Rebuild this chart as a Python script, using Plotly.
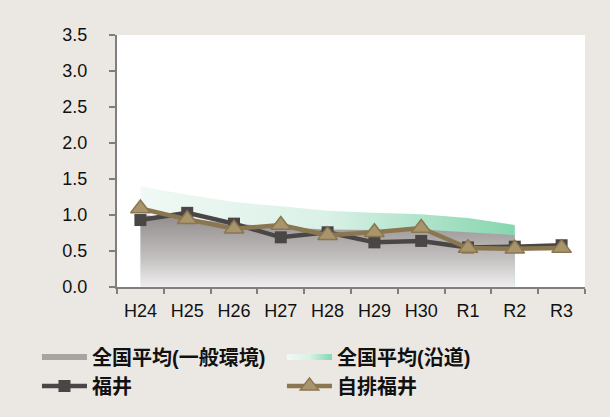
import plotly.graph_objects as go

years = ["H24", "H25", "H26", "H27", "H28", "H29", "H30", "R1", "R2", "R3"]
area_years = years[:9]
national_general = [1.00, 0.95, 0.88, 0.83, 0.80, 0.79, 0.80, 0.76, 0.72]
national_roadside = [1.40, 1.28, 1.18, 1.12, 1.06, 1.03, 1.01, 0.96, 0.86]
fukui = [0.93, 1.03, 0.88, 0.69, 0.76, 0.62, 0.64, 0.55, 0.56, 0.58]
jihai_fukui = [1.09, 0.94, 0.81, 0.86, 0.72, 0.76, 0.82, 0.54, 0.53, 0.54]

fig = go.Figure()

fig.add_trace(go.Scatter(
    x=area_years, y=national_roadside, name="全国平均(沿道)",
    mode="none", fill="tozeroy", legendrank=2,
    fillgradient=dict(type="horizontal",
                      colorscale=[[0, "#f1f9f5"], [0.5, "#d9f1e6"], [1, "#86d6b0"]]),
))
fig.add_trace(go.Scatter(
    x=area_years, y=national_general, name="全国平均(一般環境)",
    mode="none", fill="tozeroy", showlegend=False,
    fillgradient=dict(type="vertical",
                      colorscale=[[0, "#efeeee"], [0.4, "#c4c0c0"], [1, "#928d8d"]]),
))
# legend swatch (solid) for the general-environment average
fig.add_trace(go.Scatter(
    x=[None], y=[None], name="全国平均(一般環境)", mode="none", fill="tozeroy",
    fillcolor="#a8a4a2", legendrank=1, hoverinfo="skip",
))
fig.add_trace(go.Scatter(
    x=years, y=fukui, name="福井", mode="lines+markers", legendrank=3,
    line=dict(color="#4a4646", width=4.5),
    marker=dict(symbol="square", size=12, color="#4a4646"),
))
fig.add_trace(go.Scatter(
    x=years, y=jihai_fukui, name="自排福井", mode="lines+markers", legendrank=4,
    line=dict(color="#8a7751", width=4.5),
    marker=dict(symbol="triangle-up", size=17, color="#a8956c",
                line=dict(color="#8a7650", width=1.5)),
))

fig.update_layout(
    width=610, height=417,
    margin=dict(l=117, r=25, t=35, b=130),
    paper_bgcolor="#ebe8e3",
    plot_bgcolor="#ffffff",
    font=dict(family="Liberation Sans, Arial, sans-serif", size=18, color="#111111"),
    showlegend=True,
    legend=dict(
        orientation="h", x=-0.171, y=-0.2, xanchor="left", yanchor="top",
        entrywidth=185, entrywidthmode="pixels", itemwidth=45,
        font=dict(family="Liberation Sans, Noto Sans CJK JP, sans-serif",
                  size=20, color="#111111", weight="bold"),
        bgcolor="rgba(0,0,0,0)", tracegroupgap=0, traceorder="normal",
    ),
    xaxis=dict(
        type="category", range=[-0.5, 9.5], showgrid=False, zeroline=False,
        showline=True, linecolor="#7f7f7f", linewidth=2,
        ticks="outside", tickson="boundaries", ticklen=5, tickcolor="#7f7f7f", tickwidth=2,
        tickfont=dict(size=18), ticklabelstandoff=6,
    ),
    yaxis=dict(
        range=[0, 3.5], dtick=0.5, tickformat=".1f", showgrid=False, zeroline=False,
        showline=True, linecolor="#7f7f7f", linewidth=2,
        ticks="outside", ticklen=6, tickcolor="#7f7f7f", tickwidth=2,
        tickfont=dict(size=18), ticklabelstandoff=18,
    ),
)

fig.write_html("out.html")
